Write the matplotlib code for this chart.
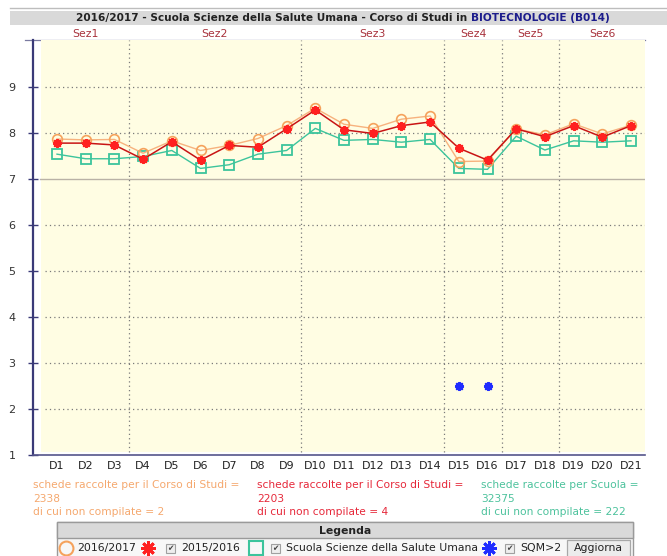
import matplotlib
matplotlib.use('Agg')
import matplotlib.pyplot as plt
from matplotlib.patches import Rectangle
from matplotlib.lines import Line2D

W, H = 667, 556

domande = ['D%d' % i for i in range(1, 22)]
sezioni = ['Sez1', 'Sez2', 'Sez3', 'Sez4', 'Sez5', 'Sez6']
confini_sezioni = [3.5, 9.5, 14.5, 16.5, 18.5]

anno_2016 = [7.87, 7.85, 7.86, 7.56, 7.83, 7.62, 7.73, 7.88, 8.16, 8.54, 8.19,
             8.10, 8.30, 8.37, 7.38, 7.39, 8.09, 7.96, 8.20, 7.98, 8.17]
anno_2015 = [7.78, 7.78, 7.74, 7.43, 7.81, 7.41, 7.73, 7.69, 8.09, 8.50, 8.07,
             7.99, 8.16, 8.24, 7.67, 7.41, 8.09, 7.92, 8.16, 7.91, 8.16]
scuola = [7.54, 7.44, 7.44, 7.49, 7.62, 7.23, 7.31, 7.54, 7.62, 8.10, 7.84,
          7.86, 7.80, 7.86, 7.23, 7.21, 7.93, 7.63, 7.83, 7.80, 7.83]
sqm_domande = [15, 16]
sqm_valori = [2.5, 2.5]

note_2016 = ['schede raccolte per il Corso di Studi =', '2338', 'di cui non compilate = 2']
note_2015 = ['schede raccolte per il Corso di Studi =', '2203', 'di cui non compilate = 4']
note_scuola = ['schede raccolte per Scuola =', '32375', 'di cui non compilate = 222']

C_ORANGE = '#f5a25c'
C_ORANGE_LINE = '#f7b27e'
C_RED = '#ff2020'
C_RED_LINE = '#c81414'
C_GREEN = '#3cc49c'
C_BLUE = '#1f2cff'
C_NAVY = '#3a3a78'
C_SEZ = '#a8323c'

plt.rcParams['font.family'] = ['DejaVu Sans']

fig = plt.figure(figsize=(W / 100, H / 100), dpi=100)

# overlay in pixel coordinates for the page furniture
ov = fig.add_axes([0, 0, 1, 1])
ov.set_xlim(0, W)
ov.set_ylim(H, 0)
ov.axis('off')

ov.add_line(Line2D([10, W], [8, 8], color='#bdbdbd', lw=1))
ov.add_patch(Rectangle((10, 11), W - 10, 14, facecolor='#d9d9d9', edgecolor='none'))
ov.text(467, 18, '2016/2017 - Scuola Scienze della Salute Umana - Corso di Studi in',
        ha='right', va='center', fontsize=7.6, fontweight='bold', color='#222222')
ov.text(471, 18, 'BIOTECNOLOGIE (B014)', ha='left', va='center', fontsize=7.6,
        fontweight='bold', color='#1c1c8c')
ov.add_line(Line2D([25, 645], [40, 40], color='#7a7aa0', lw=0.9))

# main chart
L, R, T, B = 33, 645, 40, 455
ax = fig.add_axes([L / W, (H - B) / H, (R - L) / W, (B - T) / H])
ax.set_facecolor('none')
px_x = (631 - 57) / 20.0
ax.set_xlim(1 - (57 - L) / px_x, 21 + (R - 631) / px_x)
ax.set_ylim(1, 1 + (B - T) / 46.0)

ax.axvspan(1 - (57 - 41) / px_x, ax.get_xlim()[1], ymin=3 / (B - T), ymax=1,
           color='#fffde3', zorder=0, lw=0)

for v in [2, 3, 4, 5, 6, 8, 9]:
    ax.axhline(v, xmin=12 / (R - L), color='#7a7a7a', lw=0.9, ls=(0, (1, 2.5)), zorder=1)
ax.axhline(7, xmin=7 / (R - L), color='#b9b2a6', lw=1, zorder=1)
for b in confini_sezioni:
    ax.axvline(b, ymin=3 / (B - T), color='#7a7a7a', lw=0.9, ls=(0, (1, 2.5)), zorder=1)

xs = list(range(1, len(domande) + 1))
ax.plot(xs, scuola, color=C_GREEN, lw=1, marker='s', ms=6.8, mfc='none',
        mec=C_GREEN, mew=1.3, zorder=3)
ax.plot(xs, anno_2016, color=C_ORANGE_LINE, lw=1, marker='o', ms=7, mfc='none',
        mec=C_ORANGE, mew=1.2, zorder=4)
ax.plot(xs, anno_2015, color=C_RED_LINE, lw=1.1, marker=(8, 2, 0), ms=6.5,
        mec=C_RED, mew=1.4, zorder=5)
ax.plot(sqm_domande, sqm_valori, ls='none', marker=(8, 2, 0), ms=6.5,
        mec=C_BLUE, mew=1.4, zorder=5)

for s in ['top', 'right']:
    ax.spines[s].set_visible(False)
ax.spines['left'].set_color(C_NAVY)
ax.spines['left'].set_linewidth(1.6)
ax.spines['bottom'].set_color('#55558a')
ax.spines['bottom'].set_linewidth(1.2)

ax.set_yticks(range(1, 10))
ax.tick_params(axis='y', direction='inout', length=7, width=1, color=C_NAVY,
               labelsize=8, pad=9, labelcolor='#333333')
ax.set_xticks(xs)
ax.set_xticklabels(domande)
ax.tick_params(axis='x', length=0, labelsize=8, pad=4, labelcolor='#222222')

# section labels above the chart
inizi = [0.5] + confini_sezioni
fini = confini_sezioni + [21.5]
for nome, a, b in zip(sezioni, inizi, fini):
    ax.text((a + b) / 2, 1 + (B - 34) / 46.0, nome, ha='center', va='center',
            fontsize=7.8, color=C_SEZ, clip_on=False)

# counts below the chart
for x0, righe, col in [(33, note_2016, '#f5a86e'), (257, note_2015, '#e6283a'),
                       (481, note_scuola, '#4cc29c')]:
    for i, riga in enumerate(righe):
        ov.text(x0, 485 + i * 13.5, riga, ha='left', va='center', fontsize=7.7, color=col)

# legend box
ov.add_patch(Rectangle((57, 522), 576, 40, facecolor='#f7f7f7', edgecolor='#9a9a9a', lw=1))
ov.add_patch(Rectangle((57, 522), 576, 16, facecolor='#d9d9d9', edgecolor='#9a9a9a', lw=1))
ov.text(345, 531, 'Legenda', ha='center', va='center', fontsize=7.8,
        fontweight='bold', color='#222222')

ly = 548


def checkbox(x):
    ov.add_patch(Rectangle((x - 4.5, ly - 4.5), 9, 9, facecolor='#eeeeee',
                           edgecolor='#a0a0a0', lw=0.8))
    ov.text(x, ly + 0.5, '\u2714', ha='center', va='center', fontsize=5.5, color='#444444')


ov.plot([66], [ly], marker='o', ms=10, mfc='none', mec=C_ORANGE, mew=1.5)
ov.text(77, ly, '2016/2017', ha='left', va='center', fontsize=7.8, color='#222222')
ov.plot([148], [ly], marker=(8, 2, 0), ms=10.5, mec=C_RED, mew=2.0)
checkbox(170)
ov.text(181, ly, '2015/2016', ha='left', va='center', fontsize=7.8, color='#222222')
ov.plot([256], [ly], marker='s', ms=10.5, mfc='none', mec=C_GREEN, mew=1.5)
checkbox(275)
ov.text(286, ly, 'Scuola Scienze della Salute Umana', ha='left', va='center',
        fontsize=7.8, color='#222222')
ov.plot([489], [ly], marker=(8, 2, 0), ms=10.5, mec=C_BLUE, mew=2.0)
checkbox(509)
ov.text(520, ly, 'SQM>2', ha='left', va='center', fontsize=7.8, color='#222222')
ov.add_patch(Rectangle((567, 540), 63, 18, facecolor='#ececec', edgecolor='#a8a8a8', lw=0.9))
ov.text(598.5, ly, 'Aggiorna', ha='center', va='center', fontsize=7.8, color='#222222')

fig.savefig('out.png', dpi=100)
